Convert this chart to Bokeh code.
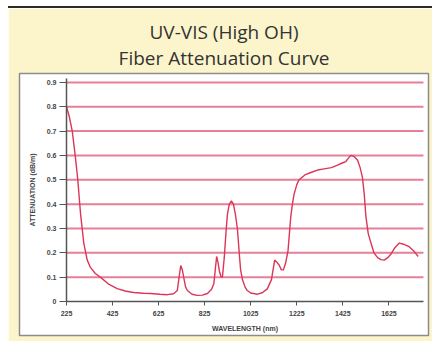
from bokeh.plotting import figure
from bokeh.models import FixedTicker, Range1d, LinearAxis, Title
from bokeh.embed import file_html
from bokeh.resources import INLINE

# ---- data ----
wavelength = [225, 237, 250, 264, 274, 286, 300, 315, 329, 350, 373, 410, 445, 480, 516, 560,
              590, 630, 663, 690, 706, 714, 721, 728, 734, 742, 750, 770, 793, 815, 837, 855,
              865, 872, 877, 883, 890, 897, 902, 910, 918, 924, 932, 941, 950, 958, 967, 975,
              981, 989, 1000, 1010, 1025, 1054, 1075, 1097, 1115, 1129, 1140, 1148, 1158, 1167,
              1177, 1187, 1193, 1199, 1206, 1213, 1225, 1235, 1260, 1286, 1315, 1344, 1375, 1402,
              1425, 1438, 1450, 1460, 1475, 1489, 1500, 1510, 1518, 1525, 1535, 1547, 1560, 1576,
              1590, 1605, 1620, 1634, 1650, 1670, 1690, 1713, 1735, 1752]
attenuation = [0.80, 0.76, 0.70, 0.59, 0.50, 0.36, 0.24, 0.17, 0.14, 0.115, 0.099, 0.07, 0.053,
               0.043, 0.037, 0.034, 0.033, 0.030, 0.028, 0.032, 0.045, 0.10, 0.148, 0.13, 0.099,
               0.06, 0.045, 0.03, 0.025, 0.026, 0.033, 0.05, 0.074, 0.14, 0.185, 0.16, 0.12, 0.10,
               0.10, 0.18, 0.29, 0.36, 0.40, 0.413, 0.40, 0.36, 0.30, 0.20, 0.13, 0.09, 0.06,
               0.045, 0.035, 0.03, 0.036, 0.052, 0.09, 0.17, 0.16, 0.15, 0.13, 0.13, 0.16, 0.21,
               0.28, 0.35, 0.40, 0.44, 0.48, 0.50, 0.52, 0.53, 0.54, 0.545, 0.55, 0.56, 0.57,
               0.575, 0.59, 0.60, 0.595, 0.58, 0.55, 0.51, 0.44, 0.35, 0.28, 0.24, 0.20, 0.18,
               0.172, 0.17, 0.18, 0.195, 0.22, 0.24, 0.235, 0.225, 0.205, 0.185]

x_ticks = [225, 425, 625, 825, 1025, 1225, 1425, 1625]
x_tick_labels = ["225", "425", "625", "825", "1025", "1225", "1425", "1625"]
y_ticks = [0, 0.1, 0.2, 0.3, 0.4, 0.5, 0.6, 0.7, 0.8, 0.9]
y_tick_labels = ["0", "0.1", "0.2", "0.3", "0.4", "0.5", "0.6", "0.7", "0.8", "0.9"]
grid_values = [0.1, 0.2, 0.3, 0.4, 0.5, 0.6, 0.7, 0.8, 0.9]
title_lines = ["UV-VIS (High OH)", "Fiber Attenuation Curve"]
x_label = "WAVELENGTH (nm)"
y_label = "ATTENUATION (dB/m)"
x_axis_span = (225, 1775)
y_axis_span = (0, 0.916)

BEIGE = "#fcf5cb"
TEXT = "#333333"

p = figure(width=424, height=335,
           x_range=Range1d(20.9, 1796.9), y_range=Range1d(-0.1397, 0.9367),
           output_backend="svg", toolbar_location=None,
           x_axis_location=None, y_axis_location=None, title=None,
           min_border_left=11, min_border_right=4, min_border_top=65, min_border_bottom=8,
           styles={"margin-left": "8px", "margin-top": "6px",
                   "border-top": "2px solid #2b2b2b"})

p.background_fill_color = "white"
p.border_fill_color = BEIGE
p.outline_line_color = "#8c8c8c"
p.outline_line_width = 1.5

# two-line title: the line nearest the plot is added first
p.add_layout(Title(text=title_lines[1], align="center", text_font="Open Sans",
                   text_font_size="19px", text_font_style="normal", text_color=TEXT,
                   standoff=6), "above")
p.add_layout(Title(text=title_lines[0], align="center", text_font="Open Sans",
                   text_font_size="19px", text_font_style="normal", text_color=TEXT,
                   standoff=-10), "above")

# axes placed inside the white panel
xaxis = LinearAxis(fixed_location=0, bounds=x_axis_span, axis_label=x_label,
                   ticker=FixedTicker(ticks=x_ticks),
                   major_label_overrides={t: l for t, l in zip(x_ticks, x_tick_labels)})
yaxis = LinearAxis(fixed_location=225, bounds=y_axis_span, axis_label=y_label,
                   ticker=FixedTicker(ticks=y_ticks),
                   major_label_overrides={t: l for t, l in zip(y_ticks, y_tick_labels)})

for ax in (xaxis, yaxis):
    ax.axis_line_color = "#555555"
    ax.axis_line_width = 1.5
    ax.major_tick_line_color = "#555555"
    ax.major_tick_line_width = 1
    ax.major_tick_in = 0
    ax.minor_tick_line_color = None
    ax.major_label_text_font = "Liberation Sans"
    ax.major_label_text_font_style = "bold"
    ax.major_label_text_font_size = "7px"
    ax.major_label_text_color = "#444444"
    ax.axis_label_text_font = "Liberation Sans"
    ax.axis_label_text_font_style = "bold"
    ax.axis_label_text_font_size = "7px"
    ax.axis_label_text_color = "#444444"

xaxis.major_tick_out = 4
yaxis.major_tick_out = 7
xaxis.major_label_standoff = 6
yaxis.major_label_standoff = 3
xaxis.axis_label_standoff = 5
yaxis.axis_label_standoff = 8

p.add_layout(xaxis, "below")
p.add_layout(yaxis, "left")

p.xgrid.grid_line_color = None
p.ygrid.grid_line_color = None

# horizontal red grid lines, from the tick values
n = len(grid_values)
p.segment(x0=[x_axis_span[0]] * n, x1=[x_axis_span[1]] * n, y0=grid_values, y1=grid_values,
          line_color="#e06080", line_width=2, line_alpha=0.8)

p.line(wavelength, attenuation, line_color="#dc3558", line_width=1.4)

open("out.html", "w").write(file_html(p, INLINE))
